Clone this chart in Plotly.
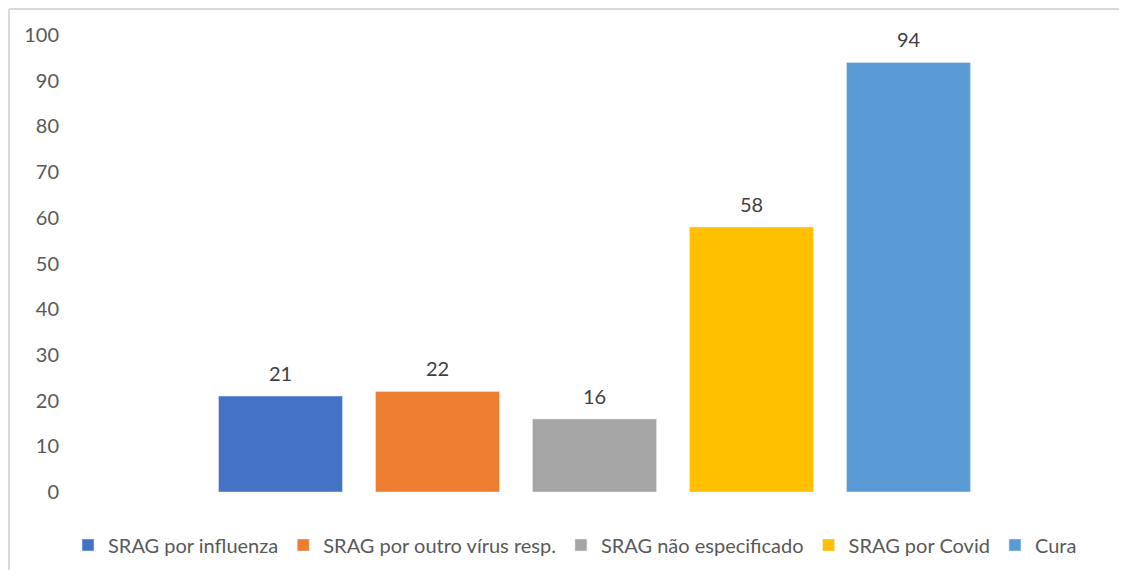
import plotly.graph_objects as go

# dados do gráfico
series = ['SRAG por influenza', 'SRAG por outro vírus resp.', 'SRAG não especificado', 'SRAG por Covid', 'Cura']
valores = [21, 22, 16, 58, 94]
cores = ['#4472C4', '#ED7D31', '#A5A5A5', '#FFC000', '#5B9BD5']

OFF = 8  # margem padrão do <body> na página
W, H = 1127 - 2 * OFF, 578 - 2 * OFF
L, T = 70 - OFF, 35 - OFF
R = W - (1119 - OFF)
B = H - (492 - OFF)
pw = W - L - R
ph = H - T - B
FONTE = 'Lato'

fig = go.Figure()
for nome, v, c in zip(series, valores, cores):
    fig.add_trace(go.Bar(x=[nome], y=[v], name=nome, marker_color=c))
    fig.add_annotation(x=nome, y=v, text=str(v), showarrow=False,
                       yanchor='bottom', yshift=9,
                       font=dict(family=FONTE, size=20, color='#404040'))

pad = (pw - 5 * 157) / 2 / 157
fig.update_layout(
    width=W, height=H,
    margin=dict(l=L, r=R, t=T, b=B),
    barmode='overlay', bargap=33 / 157,
    plot_bgcolor='white', paper_bgcolor='white',
    font=dict(family=FONTE, size=20, color='#595959'),
    xaxis=dict(range=[-0.5 - pad, 4.5 + pad], showticklabels=False, showline=False,
               showgrid=False, zeroline=False, automargin=False),
    yaxis=dict(range=[0, 100], dtick=10, showgrid=False, zeroline=False,
               showline=False, ticks='', tickfont=dict(size=20, color='#595959'),
               ticklabelstandoff=10, automargin=False),
    legend=dict(orientation='h', x=(575 - OFF) / W, xref='container', xanchor='center',
                y=(H - (545 - OFF)) / H, yref='container', yanchor='middle',
                font=dict(size=20, color='#595959'), itemwidth=30,
                traceorder='normal'),
    showlegend=True,
)

# borda do quadro (só topo e esquerda aparecem no recorte)
x0 = (1 - L) / pw
y0 = (H - B - 1) / ph
fig.add_shape(type='line', xref='paper', yref='paper', x0=x0, x1=x0, y0=-0.3, y1=y0,
              line=dict(color='#d9d9d9', width=2))
fig.add_shape(type='line', xref='paper', yref='paper', x0=x0, x1=1.05, y0=y0, y1=y0,
              line=dict(color='#d9d9d9', width=2))

fig.write_html('out.html')
